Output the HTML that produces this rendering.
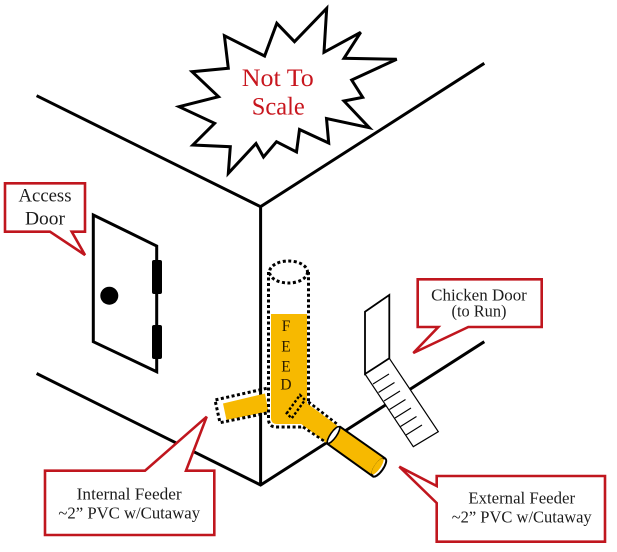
<!DOCTYPE html>
<html>
<head>
<meta charset="utf-8">
<style>
  html, body { margin:0; padding:0; background:#fff; }
  svg { display:block; }
  .t { font-family: "Liberation Serif", serif; fill:#1c1c1c; }
</style>
</head>
<body>
<svg width="617" height="552" viewBox="0 0 617 552" xmlns="http://www.w3.org/2000/svg">
  <rect width="617" height="552" fill="#fff"/>

  <!-- Starburst -->
  <polygon points="326.7,8.3 324,52.3 360.7,32.3 344,58.3 396.7,59.3 351.7,80 362.7,97.3 344,101 369.3,127.7 326.5,118.5 328.7,143 299.5,129.5 296.5,152 276.5,141.7 263.5,157 256,143.5 228.3,173.3 230.3,146.7 192.9,145 214.6,123.3 179.1,106.7 218.5,96.7 192.1,71.7 228.3,68.3 224.4,35.7 264.6,56 276.8,23.3 294.5,41.7"
    fill="#fff" stroke="#000" stroke-width="3" stroke-linejoin="miter"/>
  <text class="t" x="277.8" y="86" font-size="25" text-anchor="middle" style="fill:#c8161e" textLength="72" lengthAdjust="spacingAndGlyphs">Not To</text>
  <text class="t" x="278.3" y="114.5" font-size="25" text-anchor="middle" style="fill:#c8161e" textLength="53" lengthAdjust="spacingAndGlyphs">Scale</text>

  <!-- Walls -->
  <g stroke="#000" stroke-width="3" fill="none" stroke-linecap="butt">
    <polyline points="36.6,95.7 260.6,206.7 484.3,63.3"/>
    <line x1="260.6" y1="206.7" x2="260.6" y2="485"/>
    <polyline points="36.6,373.5 260.6,485 484.3,341.7"/>
  </g>

  <!-- Access door -->
  <polygon points="93.3,215 156.7,246 156.7,371.7 93.3,341.7" fill="#fff" stroke="#000" stroke-width="3" stroke-linejoin="miter"/>
  <circle cx="109.3" cy="295.7" r="9" fill="#000"/>
  <rect x="152" y="260" width="10" height="34" rx="2" fill="#000"/>
  <rect x="152" y="325" width="10" height="34" rx="2" fill="#000"/>

  <!-- Chicken door and ramp -->
  <polygon points="365,374 389.3,358.3 438.3,431.7 413.3,446.7" fill="#fff" stroke="#000" stroke-width="1.2"/>
  <g stroke="#000" stroke-width="1.1">
    <line x1="373" y1="384" x2="389" y2="374"/>
    <line x1="378.5" y1="392.5" x2="394.5" y2="382.5"/>
    <line x1="384" y1="401" x2="400" y2="391"/>
    <line x1="389.5" y1="409.5" x2="405.5" y2="399.5"/>
    <line x1="395" y1="418" x2="411" y2="408"/>
    <line x1="400.5" y1="426.5" x2="416.5" y2="416.5"/>
    <line x1="406" y1="435" x2="422" y2="425"/>
  </g>
  <polygon points="365,311.7 389.3,295 389.3,358.3 365,374" fill="#fff" stroke="#000" stroke-width="1.8"/>

  <!-- Internal feeder (left branch) -->
  <polygon points="223,403.5 265,393.5 268.5,411.5 226.5,420" fill="#f7b900"/>
  <polyline points="266.7,388.3 215,400 220,422.7 268.3,412.7" fill="none" stroke="#000" stroke-width="3" stroke-dasharray="3 2.5"/>

  <!-- Feed tube -->
  <path d="M271,314 L307,314 L307,418 Q307,424 301,424 L277,424 Q271,424 271,418 Z" fill="#f7b900"/>
  <path d="M268.5,272 L268.5,419 Q268.5,427 276.5,427 L300.5,427 Q308.5,427 308.5,419 L308.5,272" fill="none" stroke="#000" stroke-width="3" stroke-dasharray="3 2.5"/>
  <ellipse cx="288.5" cy="272" rx="19" ry="11" fill="none" stroke="#000" stroke-width="3" stroke-dasharray="3 2.5"/>

  <!-- inner part of external pipe -->
  <polygon points="300,398 339,427 327,443.5 288,414" fill="#f7b900"/>
  <line x1="308.3" y1="401.7" x2="338.3" y2="425" stroke="#000" stroke-width="2.6" stroke-dasharray="3 2.5"/>
  <line x1="303" y1="427" x2="325" y2="441.7" stroke="#000" stroke-width="2.6" stroke-dasharray="3 2.5"/>
  <polygon points="286.7,413.3 300,395 305,400 291.7,418.3" fill="none" stroke="#000" stroke-width="2.4" stroke-dasharray="2.5 2"/>

  <text class="t" x="286" y="331" font-size="15.5" text-anchor="middle" style="fill:#2a1a00">F</text>
  <text class="t" x="286" y="351.7" font-size="15.5" text-anchor="middle" style="fill:#2a1a00">E</text>
  <text class="t" x="286" y="371.7" font-size="15.5" text-anchor="middle" style="fill:#2a1a00">E</text>
  <text class="t" x="286" y="389.3" font-size="15.5" text-anchor="middle" style="fill:#2a1a00">D</text>

  <!-- External solid pipe -->
  <polygon points="340,426.7 385,458.3 373.3,476.7 326.7,443.3" fill="#f7b900" stroke="#000" stroke-width="2" stroke-linejoin="round"/>
  <ellipse cx="333.5" cy="435" rx="3" ry="10" transform="rotate(35 333.5 435)" fill="#fff" stroke="#000" stroke-width="1.6"/>
  <ellipse cx="379.2" cy="467.5" rx="4" ry="10.8" transform="rotate(35 379.2 467.5)" fill="#fff" stroke="#000" stroke-width="2"/>
  <ellipse cx="377.6" cy="466.4" rx="3" ry="9.5" transform="rotate(35 377.6 466.4)" fill="#f7b900"/>

  <!-- Callouts -->
  <g fill="#fff" stroke="#c0161e" stroke-width="2.6" stroke-linejoin="miter">
    <path d="M5,183.3 L85,183.3 L85,231.7 L71.7,231.7 L85,255 L50,231.7 L5,231.7 Z"/>
    <path d="M417.7,279.3 L541.7,279.3 L541.7,327 L468.3,327 L413.3,353 L438.3,327 L417.7,327 Z"/>
    <path d="M45,470.7 L145,470.7 L206.7,416.7 L186,470.7 L214.3,470.7 L214.3,535 L45,535 Z"/>
    <path d="M436.7,476 L605,476 L605,541.7 L436.7,541.7 L436.7,503 L399.3,466.7 L436.7,486 Z"/>
  </g>

  <text class="t" x="45" y="201.7" font-size="18.5" text-anchor="middle" textLength="53" lengthAdjust="spacingAndGlyphs">Access</text>
  <text class="t" x="45" y="224.3" font-size="18.5" text-anchor="middle" textLength="40" lengthAdjust="spacingAndGlyphs">Door</text>

  <text class="t" x="479" y="300.3" font-size="17" text-anchor="middle" textLength="95.7" lengthAdjust="spacingAndGlyphs">Chicken Door</text>
  <text class="t" x="479" y="316.5" font-size="17" text-anchor="middle" textLength="55" lengthAdjust="spacingAndGlyphs">(to Run)</text>

  <text class="t" x="129.2" y="499.3" font-size="16.8" text-anchor="middle" textLength="105" lengthAdjust="spacingAndGlyphs">Internal Feeder</text>
  <text class="t" x="129.2" y="518.3" font-size="16.8" text-anchor="middle" textLength="141.7" lengthAdjust="spacingAndGlyphs">~2” PVC w/Cutaway</text>

  <text class="t" x="521.7" y="503.3" font-size="16.8" text-anchor="middle" textLength="106.7" lengthAdjust="spacingAndGlyphs">External Feeder</text>
  <text class="t" x="521.7" y="522.7" font-size="16.8" text-anchor="middle" textLength="140" lengthAdjust="spacingAndGlyphs">~2” PVC w/Cutaway</text>
</svg>
</body>
</html>
